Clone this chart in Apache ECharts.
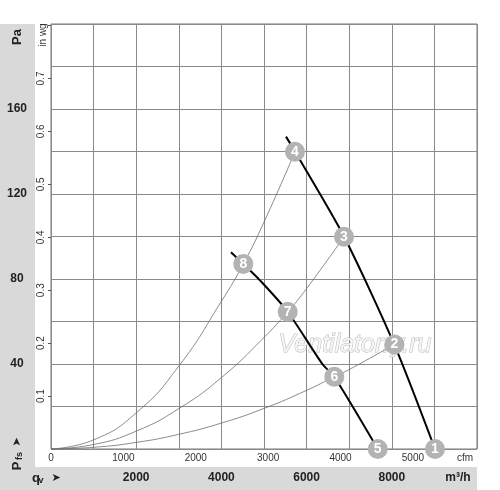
<!DOCTYPE html>
<html>
<head>
<meta charset="utf-8">
<script src="https://cdn.jsdelivr.net/npm/echarts@6/dist/echarts.min.js"></script>
<style>html,body{margin:0;padding:0;background:#fff;}#c{width:500px;height:490px;}</style>
</head>
<body>
<div id="c"></div>
<script>
// ---- data (flow in m³/h, pressure in Pa) ----
const flowMin = 0, flowMax = 10000, flowStep = 1000;
const paMin = 0, paMax = 200, paStep = 20;
const flowTickLabels = [2000, 4000, 6000, 8000];
const paTickLabels = [40, 80, 120, 160];
const cfmTickLabels = [0, 1000, 2000, 3000, 4000, 5000];
const inwgTickLabels = [0.1, 0.2, 0.3, 0.4, 0.5, 0.6, 0.7];
const m3hPerCfm = 1.699;
const paPerInwg = 249.09;

const highSpeedCurve = [[5516,147],[5728,140],[6878,100],[8062,49],[9014,0]];
const lowSpeedCurve = [[4225,92.6],[4514,87.1],[4900,79.5],[5556,64.6],[6370,40],[6650,34],[7670,0]];

const systemCurveA = [[0,0],[1000,4.3],[2000,17],[3000,39],[4000,69.5],[4514,87.1],[5000,106.8],[5728,139.9]];
const systemCurveB = [[0,0],[1000,2.1],[2000,8.4],[3000,19],[4000,33.6],[5000,52.5],[5556,64.6],[6000,75.5],[6878,99.9]];
const systemCurveC = [[0,0],[1000,0.8],[2000,3.1],[3000,6.9],[4000,12.2],[5000,19.1],[6000,27.6],[6650,34],[7000,37.4],[8062,49.2]];

const markerIds = ['1','2','3','4','5','6','7','8'];
const markerFlow = [9014,8062,6878,5728,7670,6650,5556,4514];
const markerPressure = [0,49.2,99.9,139.9,0,34,64.6,87.1];

// ---- chart ----
const FONT = '"Liberation Sans", Arial, sans-serif';
const gridColor = '#8a8a8a';
const panelColor = '#d9d9d9';
const chart = echarts.init(document.getElementById('c'), null, {renderer: 'canvas'});

const markerData = markerIds.map((id, i) => ({name: id, value: [markerFlow[i], markerPressure[i]]}));

function sysSeries(data) {
  return {type: 'line', data: data, smooth: true, showSymbol: false, silent: true,
    lineStyle: {color: '#6e6e6e', width: 0.8}, z: 3};
}
function fanSeries(data) {
  return {type: 'line', data: data, smooth: 0.25, showSymbol: false, silent: true,
    lineStyle: {color: '#000', width: 2}, z: 4};
}

chart.setOption({
  animation: false,
  backgroundColor: '#fff',
  grid: {left: 51, top: 24, width: 426, height: 425, show: true, borderColor: '#777', borderWidth: 1, backgroundColor: 'transparent'},
  xAxis: [
    {type: 'value', min: flowMin, max: flowMax, interval: flowStep, position: 'bottom',
      axisLine: {show: false}, axisTick: {show: false},
      splitLine: {show: true, lineStyle: {color: gridColor, width: 1}},
      axisLabel: {show: true, margin: 23, fontFamily: FONT, fontSize: 12, fontWeight: 'bold', color: '#222',
        formatter: v => flowTickLabels.indexOf(v) >= 0 ? String(v) : ''}},
    {type: 'value', min: 0, max: flowMax / m3hPerCfm, interval: 1000, position: 'bottom',
      axisLine: {show: false}, axisTick: {show: false}, splitLine: {show: false},
      axisLabel: {show: true, margin: 4, fontFamily: FONT, fontSize: 10, color: '#333', showMaxLabel: false,
        formatter: v => cfmTickLabels.indexOf(v) >= 0 ? String(v) : ''}}
  ],
  yAxis: [
    {type: 'value', min: paMin, max: paMax, interval: paStep, position: 'left',
      axisLine: {show: false}, axisTick: {show: false},
      splitLine: {show: true, lineStyle: {color: gridColor, width: 1}},
      axisLabel: {show: true, margin: 34, align: 'center', fontFamily: FONT, fontSize: 12, fontWeight: 'bold', color: '#222',
        formatter: v => paTickLabels.indexOf(v) >= 0 ? String(v) : ''}},
    {type: 'value', min: 0, max: paMax / paPerInwg, interval: 0.1, position: 'left',
      axisLine: {show: false}, axisTick: {show: true, length: 3, lineStyle: {color: '#555'}},
      splitLine: {show: false},
      axisLabel: {show: true, margin: 5, rotate: 90, fontFamily: FONT, fontSize: 10, color: '#333',
        showMinLabel: false, showMaxLabel: false,
        formatter: v => { const r = Math.round(v * 10) / 10; return inwgTickLabels.indexOf(r) >= 0 ? r.toFixed(1) : ''; }}}
  ],
  graphic: [
    {type: 'rect', z: -10, shape: {x: 0, y: 24, width: 35, height: 466}, style: {fill: panelColor}},
    {type: 'rect', z: -10, shape: {x: 0, y: 467, width: 477, height: 23}, style: {fill: panelColor}},
    {type: 'text', z: 1, x: 355, y: 345, style: {text: 'Ventilatorry.ru', font: 'italic 25px ' + FONT,
      fill: 'rgba(246,246,246,0.9)', stroke: '#bdbdbd', lineWidth: 1, align: 'center', verticalAlign: 'middle'}},
    {type: 'text', x: 17, y: 37, rotation: Math.PI / 2, style: {text: 'Pa', font: 'bold 13px ' + FONT, fill: '#222', align: 'center', verticalAlign: 'middle'}},
    {type: 'text', x: 43, y: 35, rotation: Math.PI / 2, style: {text: 'in wg', font: '10px ' + FONT, fill: '#333', align: 'center', verticalAlign: 'middle'}},
    {type: 'group', x: 17, y: 466, rotation: Math.PI / 2, children: [
      {type: 'text', x: 0, y: 0, style: {text: 'P', font: 'bold 13px ' + FONT, fill: '#222', align: 'center', verticalAlign: 'middle'}},
      {type: 'text', x: 10, y: 3, style: {text: 'fs', font: 'bold 9px ' + FONT, fill: '#222', align: 'center', verticalAlign: 'middle'}},
      {type: 'text', x: 24, y: 0, style: {text: '➤', font: '11px "DejaVu Sans", sans-serif', fill: '#222', align: 'center', verticalAlign: 'middle'}}
    ]},
    {type: 'text', x: 36, y: 478, style: {text: 'q', font: 'bold 13px ' + FONT, fill: '#222', align: 'center', verticalAlign: 'middle'}},
    {type: 'text', x: 41, y: 481, style: {text: 'v', font: 'bold 9px ' + FONT, fill: '#222', align: 'center', verticalAlign: 'middle'}},
    {type: 'text', x: 56, y: 478, style: {text: '➤', font: '11px "DejaVu Sans", sans-serif', fill: '#222', align: 'center', verticalAlign: 'middle'}},
    {type: 'text', x: 458, y: 478, style: {text: 'm³/h', font: 'bold 12px ' + FONT, fill: '#222', align: 'center', verticalAlign: 'middle'}},
    {type: 'text', x: 465, y: 458, style: {text: 'cfm', font: '10px ' + FONT, fill: '#333', align: 'center', verticalAlign: 'middle'}}
  ],
  series: [
    sysSeries(systemCurveA),
    sysSeries(systemCurveB),
    sysSeries(systemCurveC),
    fanSeries(highSpeedCurve),
    fanSeries(lowSpeedCurve),
    {type: 'scatter', data: markerData, symbol: 'circle', symbolSize: 20, clip: false, silent: true, z: 6,
      itemStyle: {color: '#b3b3b3', opacity: 1},
      label: {show: true, position: 'inside', formatter: p => p.name, color: '#ffffff', opacity: 1,
        fontFamily: FONT, fontSize: 14, fontWeight: 'bold', textBorderWidth: 0}}
  ]
});
</script>
</body>
</html>
